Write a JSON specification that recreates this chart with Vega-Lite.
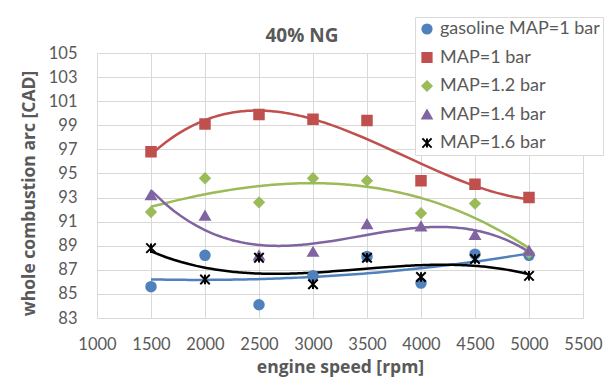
{
  "$schema": "https://vega.github.io/schema/vega-lite/v6.json",
  "width": 486,
  "height": 265,
  "autosize": {"type": "none"},
  "padding": {"left": 97, "top": 53, "right": 27, "bottom": 60},
  "background": "white",
  "title": {"text": "40% NG", "fontSize": 19, "font": "Open Sans", "fontWeight": "bold", "color": "#595959", "anchor": "middle", "dx": -38, "offset": -29},
  "config": {
    "view": {"stroke": null},
    "axis": {"labelFont": "Lato", "titleFont": "Open Sans", "labelFontSize": 16.5, "labelColor": "#595959", "titleColor": "#595959", "titleFontSize": 17.5, "titleFontWeight": "bold", "gridColor": "#d9d9d9", "gridWidth": 1, "domain": false, "ticks": false, "labelOverlap": false, "labelFlush": false}
  },
  "data": {"values": [
    {"rpm": 1500, "cad": 85.6, "series": "gasoline MAP=1 bar"},
    {"rpm": 2000, "cad": 88.2, "series": "gasoline MAP=1 bar"},
    {"rpm": 2500, "cad": 84.1, "series": "gasoline MAP=1 bar"},
    {"rpm": 3000, "cad": 86.5, "series": "gasoline MAP=1 bar"},
    {"rpm": 3500, "cad": 88.1, "series": "gasoline MAP=1 bar"},
    {"rpm": 4000, "cad": 85.9, "series": "gasoline MAP=1 bar"},
    {"rpm": 4500, "cad": 88.3, "series": "gasoline MAP=1 bar"},
    {"rpm": 5000, "cad": 88.2, "series": "gasoline MAP=1 bar"},
    {"rpm": 1500, "cad": 96.8, "series": "MAP=1 bar"},
    {"rpm": 2000, "cad": 99.1, "series": "MAP=1 bar"},
    {"rpm": 2500, "cad": 99.9, "series": "MAP=1 bar"},
    {"rpm": 3000, "cad": 99.5, "series": "MAP=1 bar"},
    {"rpm": 3500, "cad": 99.4, "series": "MAP=1 bar"},
    {"rpm": 4000, "cad": 94.4, "series": "MAP=1 bar"},
    {"rpm": 4500, "cad": 94.1, "series": "MAP=1 bar"},
    {"rpm": 5000, "cad": 93.0, "series": "MAP=1 bar"},
    {"rpm": 1500, "cad": 91.8, "series": "MAP=1.2 bar"},
    {"rpm": 2000, "cad": 94.6, "series": "MAP=1.2 bar"},
    {"rpm": 2500, "cad": 92.6, "series": "MAP=1.2 bar"},
    {"rpm": 3000, "cad": 94.6, "series": "MAP=1.2 bar"},
    {"rpm": 3500, "cad": 94.4, "series": "MAP=1.2 bar"},
    {"rpm": 4000, "cad": 91.7, "series": "MAP=1.2 bar"},
    {"rpm": 4500, "cad": 92.5, "series": "MAP=1.2 bar"},
    {"rpm": 5000, "cad": 88.4, "series": "MAP=1.2 bar"},
    {"rpm": 1500, "cad": 93.2, "series": "MAP=1.4 bar"},
    {"rpm": 2000, "cad": 91.5, "series": "MAP=1.4 bar"},
    {"rpm": 2500, "cad": 88.2, "series": "MAP=1.4 bar"},
    {"rpm": 3000, "cad": 88.5, "series": "MAP=1.4 bar"},
    {"rpm": 3500, "cad": 90.8, "series": "MAP=1.4 bar"},
    {"rpm": 4000, "cad": 90.6, "series": "MAP=1.4 bar"},
    {"rpm": 4500, "cad": 89.9, "series": "MAP=1.4 bar"},
    {"rpm": 5000, "cad": 88.6, "series": "MAP=1.4 bar"},
    {"rpm": 1500, "cad": 88.8, "series": "MAP=1.6 bar"},
    {"rpm": 2000, "cad": 86.2, "series": "MAP=1.6 bar"},
    {"rpm": 2500, "cad": 88.0, "series": "MAP=1.6 bar"},
    {"rpm": 3000, "cad": 85.8, "series": "MAP=1.6 bar"},
    {"rpm": 3500, "cad": 88.0, "series": "MAP=1.6 bar"},
    {"rpm": 4000, "cad": 86.4, "series": "MAP=1.6 bar"},
    {"rpm": 4500, "cad": 87.9, "series": "MAP=1.6 bar"},
    {"rpm": 5000, "cad": 86.5, "series": "MAP=1.6 bar"}
  ]},
  "encoding": {
    "x": {"field": "rpm", "type": "quantitative", "title": "engine speed [rpm]",
      "scale": {"domain": [1000, 5500], "nice": false},
      "axis": {"values": [1000, 1500, 2000, 2500, 3000, 3500, 4000, 4500, 5000, 5500], "labelPadding": 18, "titlePadding": 6, "format": "d"}},
    "y": {"field": "cad", "type": "quantitative", "title": "whole combustion arc [CAD]",
      "scale": {"domain": [83, 105], "nice": false, "zero": false},
      "axis": {"values": [83, 85, 87, 89, 91, 93, 95, 97, 99, 101, 103, 105], "labelPadding": 20, "titlePadding": 10, "titleY": 140}}
  },
  "layer": [
    {
      "transform": [{"regression": "cad", "on": "rpm", "groupby": ["series"], "method": "poly", "order": 3}],
      "mark": {"type": "line", "strokeWidth": 2.5},
      "encoding": {
        "stroke": {"field": "series", "type": "nominal", "title": null,
          "scale": {"domain": ["gasoline MAP=1 bar", "MAP=1 bar", "MAP=1.2 bar", "MAP=1.4 bar", "MAP=1.6 bar"], "range": ["#4f81bd", "#c0504d", "#9bbb59", "#8064a2", "#000000"]}}
      }
    },
    {
      "mark": {"type": "point", "filled": true, "opacity": 1, "size": 90, "strokeWidth": 2},
      "encoding": {
        "fill": {"field": "series", "type": "nominal", "title": null,
          "scale": {"domain": ["gasoline MAP=1 bar", "MAP=1 bar", "MAP=1.2 bar", "MAP=1.4 bar", "MAP=1.6 bar"], "range": ["#4f81bd", "#c0504d", "#9bbb59", "#8064a2", "#000000"]},
          "legend": {"orient": "none", "legendX": 318, "legendY": -36, "fillColor": "white", "strokeColor": "#d9d9d9", "padding": 3, "labelFont": "Lato", "labelFontSize": 18, "labelColor": "#595959", "symbolSize": 85, "symbolStrokeWidth": 2, "rowPadding": 10.5, "labelOffset": 4, "labelLimit": 300}},
        "stroke": {"field": "series", "type": "nominal", "title": null},
        "shape": {"field": "series", "type": "nominal", "title": null,
          "scale": {"domain": ["gasoline MAP=1 bar", "MAP=1 bar", "MAP=1.2 bar", "MAP=1.4 bar", "MAP=1.6 bar"], "range": ["circle", "square", "diamond", "triangle-up", "M-1,-1L1,1M1,-1L-1,1M0,-1L0,1"]}}
      }
    }
  ]
}
